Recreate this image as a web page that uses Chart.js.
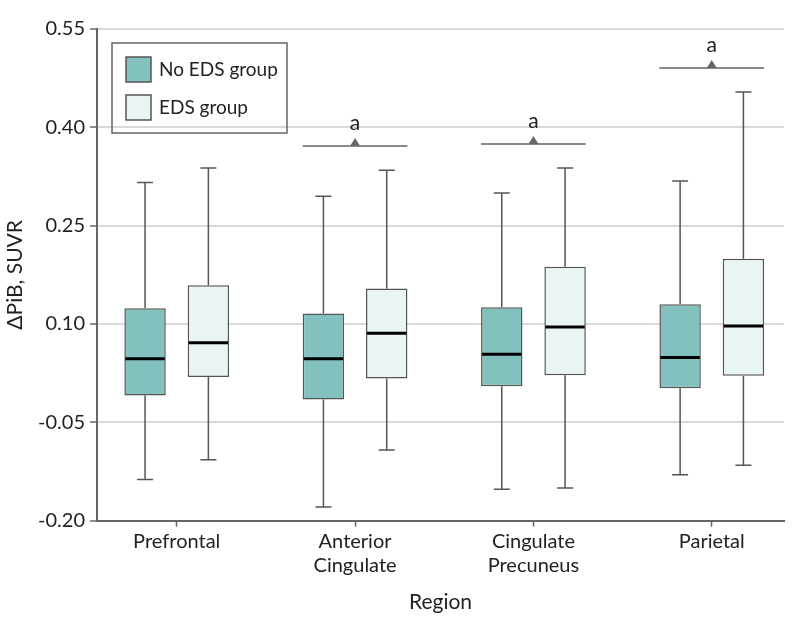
<!DOCTYPE html>
<html>
<head>
<meta charset="utf-8">
<script src="https://cdn.jsdelivr.net/npm/chart.js@4.4.1/dist/chart.umd.min.js"></script>
<style>
  html, body { margin: 0; padding: 0; background: #fff; }
  #wrap { width: 798px; height: 630px; }
</style>
</head>
<body>
<div id="wrap"><canvas id="boxChart"></canvas></div>
<script>
// values (SUVR change)
const regions = [['Prefrontal'], ['Anterior', 'Cingulate'], ['Cingulate', 'Precuneus'], ['Parietal']];
const yTicks = [-0.20, -0.05, 0.10, 0.25, 0.40, 0.55];

const noEdsMin    = [-0.137, -0.179, -0.152, -0.130];
const noEdsQ1     = [-0.009, -0.015, 0.005, 0.002];
const noEdsMedian = [0.047, 0.047, 0.054, 0.049];
const noEdsQ3     = [0.124, 0.116, 0.1255, 0.130];
const noEdsMax    = [0.316, 0.295, 0.300, 0.318];

const edsMin    = [-0.107, -0.092, -0.150, -0.1155];
const edsQ1     = [0.019, 0.017, 0.022, 0.021];
const edsMedian = [0.0715, 0.086, 0.0955, 0.097];
const edsQ3     = [0.159, 0.154, 0.1875, 0.1997];
const edsMax    = [0.338, 0.3345, 0.338, 0.454];

// significance bracket height per region (null = none)
const sigLevel = [null, 0.3715, 0.3746, 0.4905];
const sigMark  = ['', 'a', 'a', 'a'];

const TEAL = '#83c1bf';
const PALE = '#e9f4f5';
const EDGE = '#555555';
const FONT = 'Lato';

// whiskers, medians, brackets and the boxed legend
const boxExtras = {
    id: 'boxExtras',
    afterDatasetsDraw(chart) {
        const ctx = chart.ctx;
        const y = chart.scales.y;
        const stats = [
            [noEdsMin, noEdsMedian, noEdsMax],
            [edsMin, edsMedian, edsMax]
        ];
        ctx.save();
        stats.forEach((s, d) => {
            const meta = chart.getDatasetMeta(d);
            meta.data.forEach((bar, i) => {
                const props = bar.getProps(['x', 'y', 'base', 'width'], true);
                const top = Math.min(props.y, props.base);
                const bottom = Math.max(props.y, props.base);
                const x = props.x;
                const half = props.width / 2;
                // whiskers
                ctx.strokeStyle = EDGE;
                ctx.lineWidth = 1.5;
                ctx.beginPath();
                ctx.moveTo(x, top);
                ctx.lineTo(x, y.getPixelForValue(s[2][i]));
                ctx.moveTo(x - 8, y.getPixelForValue(s[2][i]));
                ctx.lineTo(x + 8, y.getPixelForValue(s[2][i]));
                ctx.moveTo(x, bottom);
                ctx.lineTo(x, y.getPixelForValue(s[0][i]));
                ctx.moveTo(x - 8, y.getPixelForValue(s[0][i]));
                ctx.lineTo(x + 8, y.getPixelForValue(s[0][i]));
                ctx.stroke();
                // median
                ctx.strokeStyle = '#000';
                ctx.lineWidth = 3;
                ctx.beginPath();
                ctx.moveTo(x - half + 1, y.getPixelForValue(s[1][i]));
                ctx.lineTo(x + half - 1, y.getPixelForValue(s[1][i]));
                ctx.stroke();
            });
        });

        // significance brackets
        const m0 = chart.getDatasetMeta(0);
        const m1 = chart.getDatasetMeta(1);
        sigLevel.forEach((lvl, i) => {
            if (lvl === null) return;
            const left = m0.data[i].x - m0.data[i].width / 2;
            const right = m1.data[i].x + m1.data[i].width / 2;
            const mid = (left + right) / 2;
            const py = y.getPixelForValue(lvl);
            ctx.strokeStyle = '#8a8a8a';
            ctx.lineWidth = 2;
            ctx.beginPath();
            ctx.moveTo(left, py);
            ctx.lineTo(right, py);
            ctx.stroke();
            ctx.fillStyle = '#666';
            ctx.beginPath();
            ctx.moveTo(mid - 5, py);
            ctx.lineTo(mid + 5, py);
            ctx.lineTo(mid, py - 8);
            ctx.closePath();
            ctx.fill();
            ctx.fillStyle = '#222';
            ctx.font = '21px ' + FONT;
            ctx.textAlign = 'center';
            ctx.textBaseline = 'middle';
            ctx.fillText(sigMark[i], mid, py - 23);
        });

        // legend in a frame
        const area = chart.chartArea;
        const lx = area.left + 15, ly = area.top + 14;
        ctx.strokeStyle = '#666';
        ctx.lineWidth = 1.5;
        ctx.strokeRect(lx, ly, 175, 90);
        const items = [
            [chart.data.datasets[0].label, TEAL],
            [chart.data.datasets[1].label, PALE]
        ];
        items.forEach((it, k) => {
            const sy = ly + 14 + k * 38;
            ctx.fillStyle = it[1];
            ctx.fillRect(lx + 14, sy, 25, 25);
            ctx.strokeStyle = EDGE;
            ctx.lineWidth = 1.5;
            ctx.strokeRect(lx + 14, sy, 25, 25);
            ctx.fillStyle = '#222';
            ctx.font = '19px ' + FONT;
            ctx.textAlign = 'left';
            ctx.textBaseline = 'middle';
            ctx.fillText(it[0], lx + 47, sy + 13);
        });
        ctx.restore();
    }
};

Chart.defaults.font.family = FONT;
Chart.defaults.font.size = 20;
Chart.defaults.color = '#222';

new Chart(document.getElementById('boxChart'), {
    type: 'bar',
    data: {
        datasets: [
            {
                label: 'No EDS group',
                data: noEdsQ1.map((q1, i) => ({ x: i, y: [q1, noEdsQ3[i]] })),
                backgroundColor: TEAL,
                borderColor: EDGE,
                borderWidth: 1.5,
                borderSkipped: false,
                categoryPercentage: 0.71,
                barPercentage: 0.654
            },
            {
                label: 'EDS group',
                data: edsQ1.map((q1, i) => ({ x: i, y: [q1, edsQ3[i]] })),
                backgroundColor: PALE,
                borderColor: EDGE,
                borderWidth: 1.5,
                borderSkipped: false,
                categoryPercentage: 0.71,
                barPercentage: 0.654
            }
        ]
    },
    options: {
        responsive: true,
        maintainAspectRatio: false,
        animation: false,
        layout: { padding: { top: 29, right: 14, left: 0, bottom: 0 } },
        plugins: {
            legend: { display: false },
            tooltip: { enabled: false }
        },
        scales: {
            x: {
                type: 'linear',
                offset: false,
                min: -0.447,
                max: 3.405,
                afterBuildTicks: s => { s.ticks = regions.map((r, i) => ({ value: i })); },
                afterFit: s => { s.height = 109.3; },
                ticks: {
                    includeBounds: false,
                    padding: 3,
                    color: '#222',
                    font: { size: 20, lineHeight: 1.2 },
                    callback: v => regions[v]
                },
                grid: {
                    offset: false,
                    drawOnChartArea: false,
                    tickLength: 6,
                    tickColor: '#666',
                    tickWidth: 1.5
                },
                border: { color: '#666', width: 2 },
                title: {
                    display: true,
                    text: 'Region',
                    font: { size: 21, lineHeight: 1.2 },
                    padding: { bottom: 15 }
                }
            },
            y: {
                min: -0.20,
                max: 0.55,
                afterBuildTicks: s => { s.ticks = yTicks.map(v => ({ value: v })); },
                afterFit: s => { s.width = 97; },
                ticks: {
                    padding: 5,
                    color: '#222',
                    font: { size: 20 },
                    callback: v => v.toFixed(2)
                },
                grid: {
                    color: '#d9d9d9',
                    lineWidth: 2,
                    tickLength: 7,
                    tickColor: '#666',
                    tickWidth: 1.5
                },
                border: { color: '#666', width: 2 },
                title: {
                    display: true,
                    text: 'ΔPiB, SUVR',
                    font: { size: 21, lineHeight: 1.2 },
                    padding: { top: 3 }
                }
            }
        }
    },
    plugins: [boxExtras]
});
</script>
</body>
</html>
